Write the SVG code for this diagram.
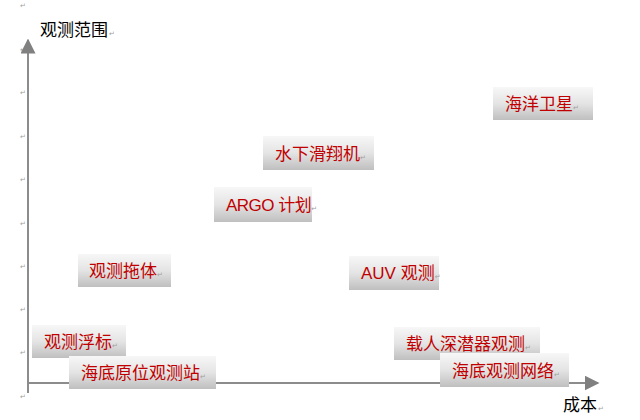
<svg xmlns="http://www.w3.org/2000/svg" width="640" height="420" viewBox="0 0 640 420">
<defs>
<linearGradient id="g" x1="0" y1="0" x2="0" y2="1">
<stop offset="0" stop-color="#f7f7f7"/>
<stop offset="0.5" stop-color="#e4e4e4"/>
<stop offset="1" stop-color="#bfbfbf"/>
</linearGradient>
<marker id="ah" viewBox="0 0 10 10" refX="9" refY="5" markerWidth="15" markerHeight="15" markerUnits="userSpaceOnUse" orient="auto">
<path d="M0,0 L10,5 L0,10 Z" fill="#808080"/>
</marker>
<style>
.box{fill:url(#g);}
.lbl{font-family:"Liberation Sans","Noto Sans CJK SC",sans-serif;font-size:17px;fill:#c00000;}
.ax{font-family:"Liberation Sans","Noto Sans CJK SC",sans-serif;font-size:17px;fill:#000;}
.pm{font-family:"DejaVu Sans",sans-serif;font-size:7px;fill:#a0a0a0;}
.axis{stroke:#8c8c8c;stroke-width:2;fill:none;}
</style>
</defs>
<rect width="640" height="420" fill="#fff"/>
<g id="margin-marks">
<text class="pm" x="20" y="8">↵</text>
<text class="pm" x="20" y="52">↵</text>
<text class="pm" x="20" y="95">↵</text>
<text class="pm" x="20" y="139">↵</text>
<text class="pm" x="20" y="182">↵</text>
<text class="pm" x="20" y="226">↵</text>
<text class="pm" x="20" y="269">↵</text>
<text class="pm" x="20" y="312">↵</text>
<text class="pm" x="20" y="355">↵</text>
<text class="pm" x="20" y="399">↵</text>
</g>
<g id="connectors">
<line class="axis" x1="28" y1="393" x2="28" y2="40" marker-end="url(#ah)"/>
<line class="axis" x1="28" y1="383" x2="598" y2="383" marker-end="url(#ah)"/>
</g>
<g id="y-label"><text class="ax" x="40" y="36">观测范围<tspan class="pm" dx="1">↵</tspan></text></g>
<g id="x-label"><text class="ax" x="563" y="411">成本<tspan class="pm" dx="1">↵</tspan></text></g>
<g id="n-haiyang-weixing"><rect class="box" x="493" y="87" width="100" height="33"/><text class="lbl" x="505" y="110">海洋卫星<tspan class="pm">↵</tspan></text></g>
<g id="n-shuixia-huaxiangji"><rect class="box" x="263" y="136" width="111" height="34"/><text class="lbl" x="275" y="160">水下滑翔机<tspan class="pm">↵</tspan></text></g>
<g id="n-argo"><rect class="box" x="214" y="187" width="98" height="35"/><text class="lbl" x="226" y="211" letter-spacing="-0.5">ARGO 计划<tspan class="pm">↵</tspan></text></g>
<g id="n-guance-tuoti"><rect class="box" x="78" y="254" width="93" height="33"/><text class="lbl" x="89" y="277">观测拖体<tspan class="pm">↵</tspan></text></g>
<g id="n-auv"><rect class="box" x="349" y="256" width="90" height="34"/><text class="lbl" x="361" y="279">AUV 观测<tspan class="pm">↵</tspan></text></g>
<g id="n-guance-fubiao"><rect class="box" x="32" y="325" width="94" height="33"/><text class="lbl" x="44" y="348">观测浮标<tspan class="pm">↵</tspan></text></g>
<g id="n-zairen"><rect class="box" x="394" y="327" width="146" height="33"/><text class="lbl" x="406" y="350">载人深潜器观测<tspan class="pm">↵</tspan></text></g>
<g id="n-haidi-yuanwei"><rect class="box" x="69" y="356" width="147" height="33"/><text class="lbl" x="81" y="379">海底原位观测站<tspan class="pm">↵</tspan></text></g>
<g id="n-haidi-wangluo"><rect class="box" x="440" y="353" width="129" height="34"/><text class="lbl" x="452" y="377">海底观测网络<tspan class="pm">↵</tspan></text></g>
</svg>
